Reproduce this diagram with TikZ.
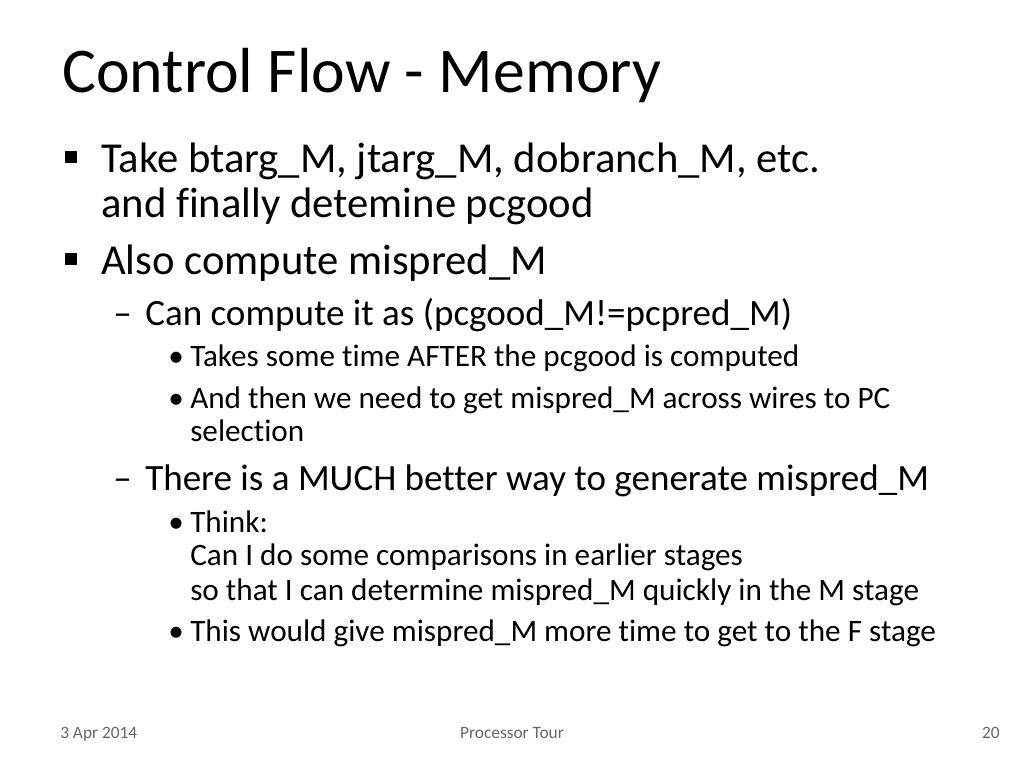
\documentclass[tikz,border=0pt]{standalone}
\usepackage{fontspec}
\setmainfont{Carlito}[Ligatures={NoCommon}]
\begin{document}
\begin{tikzpicture}[x=0.75pt,y=-0.75pt,
  t1/.style={anchor=base west,inner sep=0pt,font=\fontsize{32}{34}\selectfont},
  t2/.style={anchor=base west,inner sep=0pt,font=\fontsize{27.8}{30}\selectfont},
  t3/.style={anchor=base west,inner sep=0pt,font=\fontsize{23.4}{26}\selectfont},
  ft/.style={inner sep=0pt,anchor=base,font=\fontsize{13}{15}\selectfont,text=black!60},
  sq/.style={fill=black,minimum size=8.5pt,inner sep=0pt}]
\useasboundingbox (0,0) rectangle (1024,768);
\node[anchor=base west,inner sep=0pt,font=\fontsize{47.8}{50}\selectfont] (title) at (62,92) {Control Flow - Memory};
\node[sq] (b1) at (71,157) {};
\node[t1] (l1) at (101,172) {Take btarg\_M, jtarg\_M, dobranch\_M, etc.};
\node[t1] (l1b) at (101,217) {and finally detemine pcgood};
\node[sq] (b2) at (71,259) {};
\node[t1] (l2) at (101,274) {Also compute mispred\_M};
\node[t2] (d1) at (113,325) {–};
\node[t2] (l3) at (145,325) {Can compute it as (pcgood\_M!=pcpred\_M)};
\node[t3] (p1) at (168,366) {•};
\node[t3] (l4) at (190,366) {Takes some time AFTER the pcgood is computed};
\node[t3] (p2) at (168,408) {•};
\node[t3] (l5) at (190,408) {And then we need to get mispred\_M across wires to PC};
\node[t3] (l5b) at (190,441) {selection};
\node[t2] (d2) at (113,490) {–};
\node[t2] (l6) at (145,490) {There is a MUCH better way to generate mispred\_M};
\node[t3] (p3) at (168,532) {•};
\node[t3] (l7) at (190,532) {Think:};
\node[t3] (l7b) at (190,565) {Can I do some comparisons in earlier stages};
\node[t3] (l7c) at (190,600) {so that I can determine mispred\_M quickly in the M stage};
\node[t3] (p4) at (168,641) {•};
\node[t3] (l8) at (190,641) {This would give mispred\_M more time to get to the F stage};
\node[ft,anchor=base west] (f1) at (60,738) {3 Apr 2014};
\node[ft] (f2) at (512,738) {Processor Tour};
\node[ft,anchor=base east] (f3) at (1000,738) {20};
\end{tikzpicture}
\end{document}
